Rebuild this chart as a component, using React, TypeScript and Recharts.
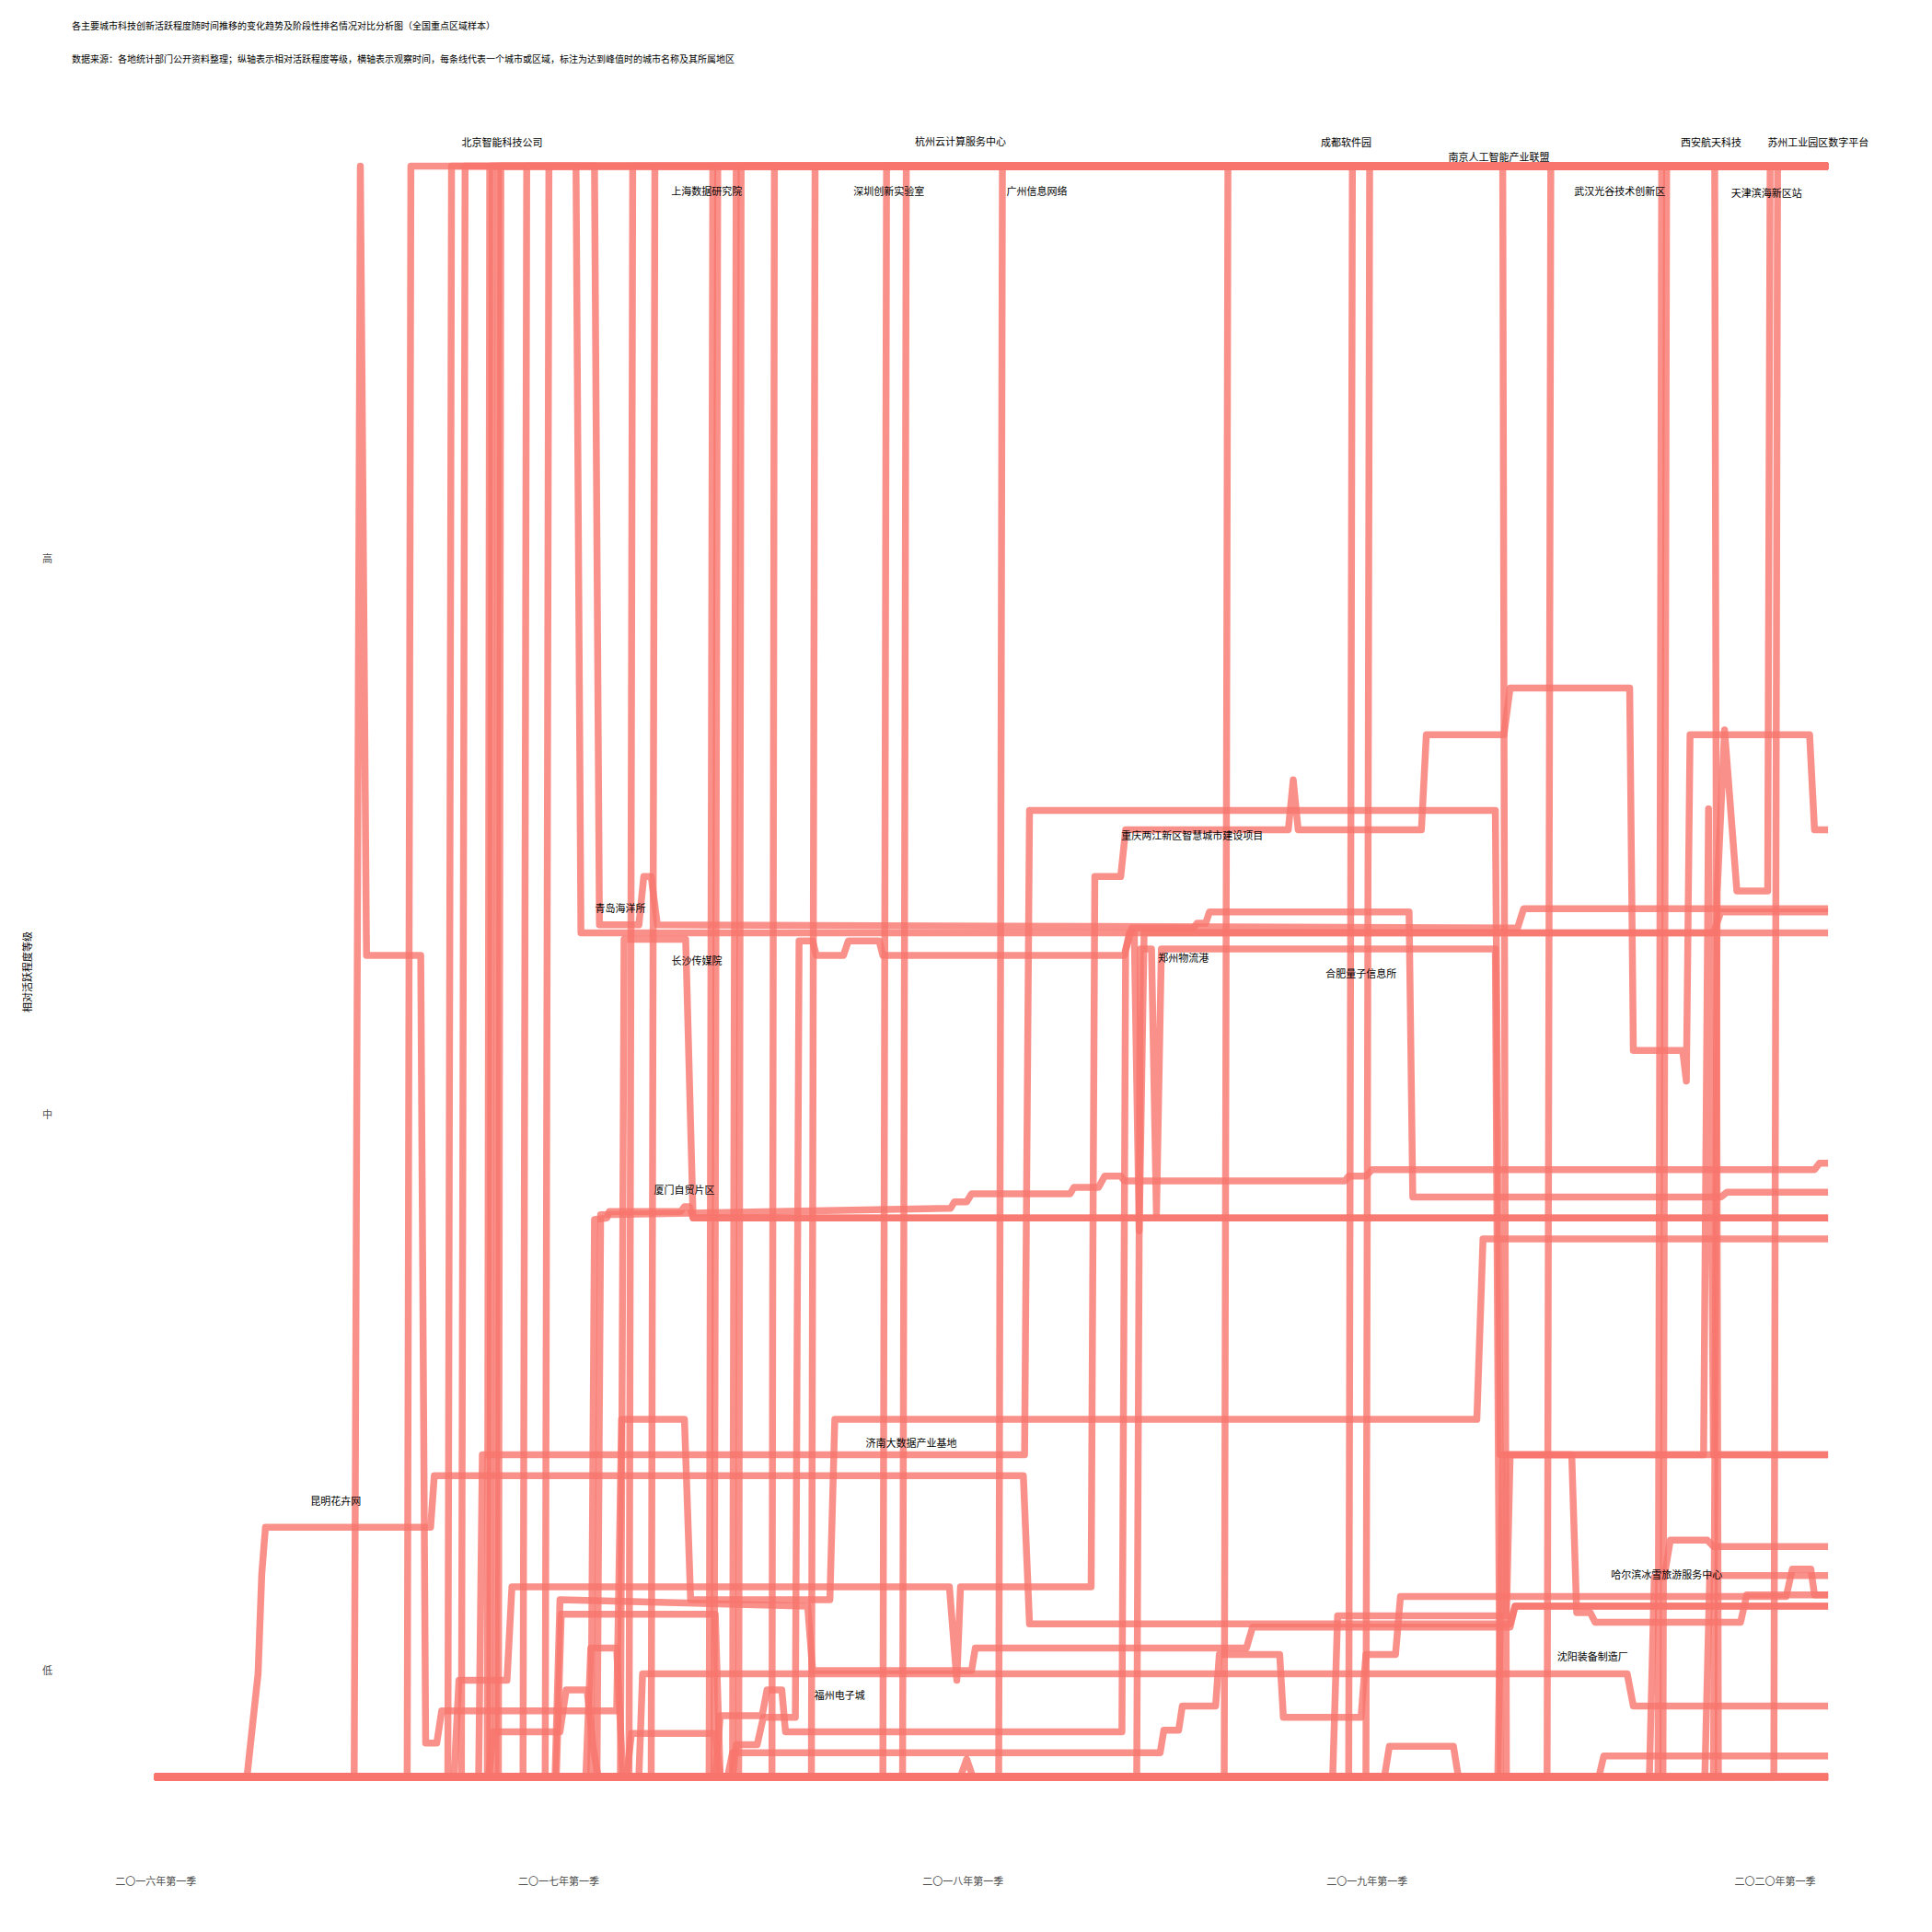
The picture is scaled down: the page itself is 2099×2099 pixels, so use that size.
import React from 'react';
import { ComposedChart, Line, XAxis, YAxis, Scatter } from 'recharts';

type Pt = [number, number];

const FONT = "'Noto Sans CJK SC', 'Noto Sans', sans-serif";
const LINE_COLOR = '#F8766D';

const titleText = '各主要城市科技创新活跃程度随时间推移的变化趋势及阶段性排名情况对比分析图（全国重点区域样本）';
const subtitleText = '数据来源：各地统计部门公开资料整理；纵轴表示相对活跃程度等级，横轴表示观察时间，每条线代表一个城市或区域，标注为达到峰值时的城市名称及其所属地区';
const yAxisTitle = '相对活跃程度等级';

const xTickValues = [1, 328, 656, 984, 1315];
const xTickLabels = ['二〇一六年第一季', '二〇一七年第一季', '二〇一八年第一季', '二〇一九年第一季', '二〇二〇年第一季'];
const yTickValues = [6.6, 41.1, 75.6];
const yTickLabels = ['低', '中', '高'];

// series: [day, level]
const s01: Pt[] = [[0, 0], [75, 0], [84, 6.4], [87, 12.6], [90, 15.5], [224, 15.5], [227, 18.7], [705, 18.7], [710, 9.5], [1100, 9.5], [1104, 10.6], [1358, 10.6]];
const s02: Pt[] = [[0, 0], [162, 0], [167, 100], [172, 51.0], [216, 51.0], [220, 2.1], [229, 2.1], [233, 4.1], [375, 4.1], [379, 22.2], [430, 22.2], [435, 11.0], [548, 11.0], [552, 22.2], [1073, 22.2], [1078, 33.4], [1358, 33.4]];
const s03: Pt[] = [[0, 0], [205, 0], [208, 100], [1358, 100]];
const s04: Pt[] = [[0, 0], [238, 0], [241, 100], [1358, 100]];
const s05: Pt[] = [[0, 0], [249, 0], [252, 100], [1358, 100]];
const s06: Pt[] = [[0, 0], [270, 0], [272, 100], [1358, 100]];
const s07: Pt[] = [[0, 0], [299, 0], [302, 100], [1358, 100]];
const s08: Pt[] = [[0, 0], [317, 0], [320, 100], [1358, 100]];
const s09: Pt[] = [[0, 0], [385, 0], [388, 100], [1358, 100]];
const s10: Pt[] = [[0, 0], [272, 0], [274, 100], [342, 100], [346, 52.4], [1358, 52.4]];
const s11: Pt[] = [[0, 0], [277, 0], [279, 100], [357, 100], [361, 52.9], [393, 52.9], [397, 55.9], [403, 55.9], [408, 52.9], [1106, 52.7], [1111, 53.9], [1358, 53.9]];
const s12: Pt[] = [[0, 0], [403, 0], [406, 100], [1358, 100]];
const s13: Pt[] = [[0, 0], [450, 0], [453, 100], [1358, 100]];
const s14: Pt[] = [[0, 0], [454, 0], [457, 100], [1358, 100]];
const s15: Pt[] = [[0, 0], [469, 0], [472, 100], [1358, 100]];
const s16: Pt[] = [[0, 0], [474, 0], [476, 100], [1358, 100]];
const s17: Pt[] = [[0, 0], [501, 0], [503, 100], [1358, 100]];
const s18: Pt[] = [[0, 0], [533, 0], [536, 100], [1358, 100]];
const s19: Pt[] = [[0, 0], [591, 0], [594, 100], [1358, 100]];
const s20: Pt[] = [[0, 0], [607, 0], [610, 100], [1358, 100]];
const s21: Pt[] = [[0, 0], [685, 0], [688, 100], [1358, 100]];
const s22: Pt[] = [[0, 0], [868, 0], [871, 100], [1358, 100]];
const s23: Pt[] = [[0, 0], [969, 0], [972, 100], [1358, 100]];
const s24: Pt[] = [[0, 0], [983, 0], [986, 100], [1358, 100]];
const s25: Pt[] = [[0, 0], [1130, 0], [1133, 100], [1358, 100]];
const s26: Pt[] = [[0, 0], [1220, 0], [1223, 100], [1358, 100]];
const s27: Pt[] = [[0, 0], [1314, 0], [1317, 100], [1358, 100]];
const s28: Pt[] = [[0, 0], [279, 0], [281, 100], [1094, 100], [1097, 0], [1358, 0]];
const s29: Pt[] = [[0, 0], [1224, 0], [1227, 100], [1266, 100], [1269, 0], [1358, 0]];
const s30: Pt[] = [[0, 0], [1265, 0], [1268, 54.9], [1274, 65.0], [1284, 55.0], [1309, 55.0], [1311, 100], [1358, 100]];
const s31: Pt[] = [[0, 0], [243, 0], [247, 6.0], [286, 6.0], [290, 11.8], [645, 11.8], [651, 6.0], [654, 11.8], [760, 11.8], [763, 55.9], [784, 55.9], [788, 58.8], [920, 58.8], [924, 61.9], [928, 58.8], [1028, 58.8], [1032, 64.7], [1095, 64.7], [1100, 67.6], [1197, 67.6], [1200, 45.1], [1240, 45.1], [1243, 43.2], [1246, 64.7], [1343, 64.7], [1347, 58.8], [1358, 58.8]];
const s32: Pt[] = [[0, 0], [263, 0], [266, 20.0], [706, 20.0], [710, 60.0], [1088, 60.0], [1092, 20.0], [1358, 20.0]];
const s33: Pt[] = [[0, 0], [1090, 0], [1094, 20.0], [1257, 20.0], [1261, 60.1], [1265, 20.0], [1358, 20.0]];
const s34: Pt[] = [[0, 0], [325, 0], [329, 11.0], [530, 10.6], [534, 6.6], [663, 6.6], [666, 8.0], [886, 8.0], [891, 9.3], [1100, 9.3], [1104, 10.6], [1358, 10.6]];
const s35: Pt[] = [[0, 0], [326, 0], [330, 10.1], [455, 10.1], [459, 0], [1358, 0]];
const s36: Pt[] = [[0, 0], [350, 0], [354, 8.0], [375, 8.0], [380, 0], [1358, 0]];
const s37: Pt[] = [[0, 0], [383, 0], [387, 2.7], [455, 2.7], [459, 0], [1358, 0]];
const s38: Pt[] = [[0, 0], [271, 0], [275, 2.8], [329, 2.8], [334, 5.4], [351, 5.4], [356, 1.8], [360, 0], [1358, 0]];
const s39: Pt[] = [[0, 0], [455, 0], [459, 3.8], [493, 3.8], [497, 5.4], [509, 5.4], [512, 2.8], [785, 2.8], [788, 51.3], [793, 52.7], [843, 52.7], [846, 53.0], [853, 53.0], [856, 53.7], [1018, 53.7], [1021, 36.0], [1271, 36.0], [1276, 36.3], [1358, 36.3]];
const s40: Pt[] = [[0, 0], [469, 0], [472, 2.0], [489, 2.0], [494, 3.7], [520, 3.7], [523, 51.9], [534, 51.9], [537, 51.0], [559, 51.0], [563, 51.9], [588, 51.9], [591, 51.0], [787, 51.0], [791, 52.4], [795, 52.4], [799, 33.9], [803, 52.4], [1265, 52.4], [1271, 53.7], [1358, 53.7]];
const s41: Pt[] = [[0, 0], [797, 0], [800, 51.4], [809, 51.4], [813, 34.9], [817, 51.4], [1088, 51.4], [1092, 0], [1358, 0]];
const s42: Pt[] = [[0, 0], [354, 0], [357, 34.6], [367, 34.7], [369, 35.1], [427, 35.1], [430, 35.4], [434, 35.4], [437, 34.7], [1358, 34.7]];
const s43: Pt[] = [[0, 0], [359, 0], [362, 34.9], [646, 35.3], [649, 35.7], [659, 35.7], [663, 36.2], [743, 36.2], [746, 36.6], [766, 36.6], [771, 37.3], [784, 37.3], [787, 37.0], [966, 37.0], [969, 37.3], [983, 37.3], [988, 37.7], [1347, 37.7], [1351, 38.1], [1358, 38.1]];
const s44: Pt[] = [[0, 0], [378, 0], [381, 52.0], [431, 52.0], [437, 34.7], [1358, 34.7]];
const s45: Pt[] = [[0, 0], [393, 0], [396, 6.4], [1195, 6.4], [1200, 4.4], [1358, 4.4]];
const s46: Pt[] = [[0, 0], [465, 0], [469, 1.5], [816, 1.5], [819, 2.9], [831, 2.9], [834, 4.4], [861, 4.4], [864, 7.6], [913, 7.6], [916, 3.7], [979, 3.7], [983, 7.6], [1007, 7.6], [1011, 11.2], [1324, 11.2], [1329, 12.9], [1344, 12.9], [1347, 11.3], [1358, 11.3]];
const s47: Pt[] = [[0, 0], [956, 0], [960, 10.0], [1097, 10.0], [1100, 20.0], [1150, 20.0], [1154, 10.2], [1165, 10.2], [1169, 9.6], [1287, 9.6], [1292, 11.3], [1358, 11.3]];
const s48: Pt[] = [[0, 0], [1213, 0], [1217, 12.4], [1225, 12.4], [1230, 14.7], [1260, 14.7], [1265, 14.3], [1358, 14.3]];
const s49: Pt[] = [[0, 0], [1258, 0], [1262, 12.5], [1358, 12.5]];
const s50: Pt[] = [[0, 0], [998, 0], [1002, 1.9], [1054, 1.9], [1058, 0], [1358, 0]];
const s51: Pt[] = [[0, 0], [1172, 0], [1176, 1.3], [1358, 1.3]];
const s52: Pt[] = [[0, 0], [654, 0], [659, 1.1], [664, 0], [1358, 0]];

const allSeries: Pt[][] = [
  s01, s02, s03, s04, s05, s06, s07, s08, s09, s10, s11, s12, s13, s14, s15, s16, s17, s18, s19, s20,
  s21, s22, s23, s24, s25, s26, s27, s28, s29, s30, s31, s32, s33, s34, s35, s36, s37, s38, s39, s40,
  s41, s42, s43, s44, s45, s46, s47, s48, s49, s50, s51, s52,
];

const peakLabels = [
  { x: 282, y: 101.5, text: '北京智能科技公司' },
  { x: 448, y: 98.5, text: '上海数据研究院' },
  { x: 596, y: 98.5, text: '深圳创新实验室' },
  { x: 654, y: 101.6, text: '杭州云计算服务中心' },
  { x: 716, y: 98.5, text: '广州信息网络' },
  { x: 967, y: 101.5, text: '成都软件园' },
  { x: 1091, y: 100.6, text: '南京人工智能产业联盟' },
  { x: 1189, y: 98.5, text: '武汉光谷技术创新区' },
  { x: 1263, y: 101.5, text: '西安航天科技' },
  { x: 1308, y: 98.4, text: '天津滨海新区站' },
  { x: 1350, y: 101.5, text: '苏州工业园区数字平台' },
  { x: 842, y: 58.5, text: '重庆两江新区智慧城市建设项目' },
  { x: 378, y: 54.0, text: '青岛海洋所' },
  { x: 440, y: 50.7, text: '长沙传媒院' },
  { x: 835, y: 50.9, text: '郑州物流港' },
  { x: 979, y: 49.9, text: '合肥量子信息所' },
  { x: 430, y: 36.5, text: '厦门自贸片区' },
  { x: 614, y: 20.8, text: '济南大数据产业基地' },
  { x: 147, y: 17.2, text: '昆明花卉网' },
  { x: 1227, y: 12.6, text: '哈尔滨冰雪旅游服务中心' },
  { x: 1167, y: 7.5, text: '沈阳装备制造厂' },
  { x: 556, y: 5.1, text: '福州电子城' },
];

const LabelShape = (props: any) => {
  const { cx, cy, payload } = props;
  return (
    <text x={cx} y={cy} textAnchor="middle" dominantBaseline="central" fontSize={11} fill="#000000" fontFamily={FONT}>
      {payload.text}
    </text>
  );
};

export default function App() {
  const W = 2099;
  const H = 2099;
  return (
    <div style={{ position: 'absolute', left: 0, top: 0, width: W, height: H, background: '#ffffff', fontFamily: FONT }}>
      <div style={{ position: 'absolute', left: 78, top: 28, transform: 'translateY(-50%)', fontSize: 10, color: '#000', whiteSpace: 'nowrap', lineHeight: 1 }}>
        {titleText}
      </div>
      <div style={{ position: 'absolute', left: 78, top: 64, transform: 'translateY(-50%)', fontSize: 10, color: '#000', whiteSpace: 'nowrap', lineHeight: 1 }}>
        {subtitleText}
      </div>
      <div style={{ position: 'absolute', left: 29, top: 1056, transform: 'translate(-50%, -50%) rotate(-90deg)', fontSize: 11, color: '#000', whiteSpace: 'nowrap', lineHeight: 1 }}>
        {yAxisTitle}
      </div>
      <div style={{ position: 'absolute', left: 0, top: 0 }}>
        <ComposedChart width={W} height={H} margin={{ top: 93, right: 22, bottom: 21, left: 17 }}>
          <XAxis
            type="number"
            dataKey="x"
            domain={[-67.9, 1425.9]}
            allowDataOverflow
            ticks={xTickValues}
            interval={0}
            tickFormatter={(v: number, i: number) => xTickLabels[i] ?? ''}
            axisLine={false}
            tickLine={false}
            tickSize={0}
            tickMargin={22}
            height={60}
            tick={{ fill: '#4D4D4D', fontSize: 11, fontFamily: FONT }}
          />
          <YAxis
            type="number"
            dataKey="y"
            domain={[-5, 105]}
            allowDataOverflow
            ticks={yTickValues}
            interval={0}
            tickFormatter={(v: number, i: number) => yTickLabels[i] ?? ''}
            axisLine={false}
            tickLine={false}
            tickSize={0}
            tickMargin={20}
            width={60}
            tick={{ fill: '#4D4D4D', fontSize: 11, fontFamily: FONT }}
          />
          {allSeries.map((pts, idx) => (
            <Line
              key={`s${idx}`}
              data={pts.map(([x, y]) => ({ x, y }))}
              dataKey="y"
              type="linear"
              dot={false}
              activeDot={false}
              stroke={LINE_COLOR}
              strokeOpacity={0.8}
              strokeWidth={7.5}
              strokeLinejoin="round"
              strokeLinecap="butt"
              isAnimationActive={false}
            />
          ))}
          <Scatter data={peakLabels} dataKey="y" shape={LabelShape} isAnimationActive={false} />
        </ComposedChart>
      </div>
    </div>
  );
}
